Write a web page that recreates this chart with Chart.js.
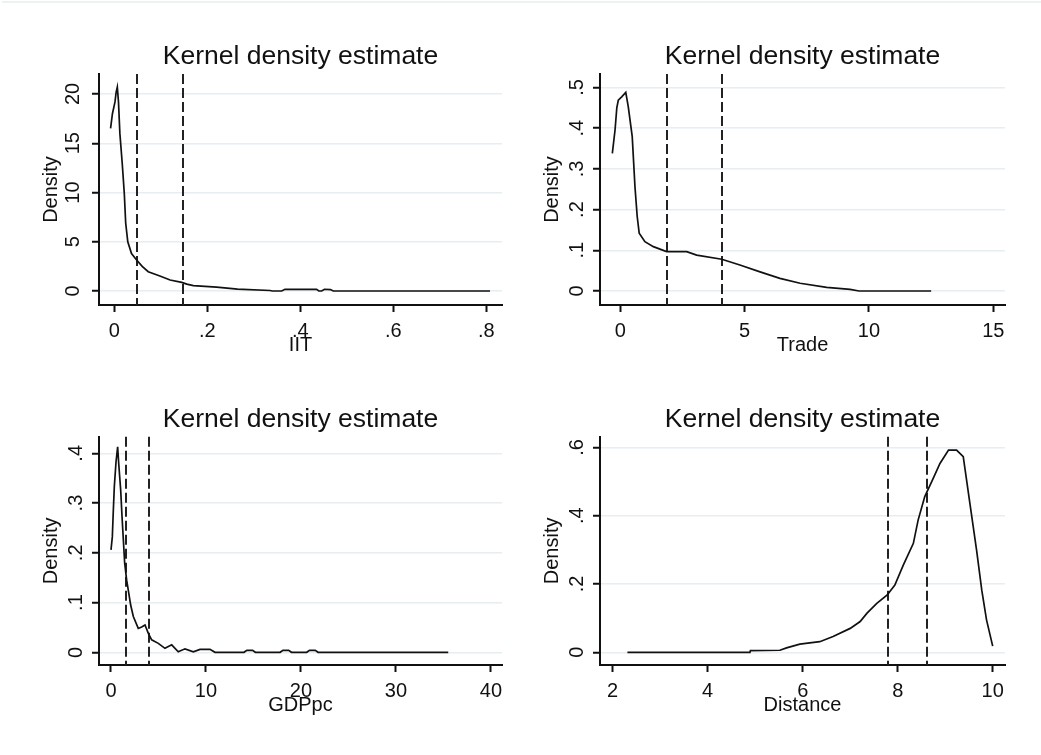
<!DOCTYPE html>
<html><head><meta charset="utf-8">
<script src="https://cdn.jsdelivr.net/npm/chart.js@4.4.1/dist/chart.umd.min.js"></script>
<style>
html,body{margin:0;padding:0;background:#fff;}
body{width:1041px;height:755px;position:relative;overflow:hidden;}
.frame{position:absolute;left:2px;top:1px;right:0;height:0;border-top:2px solid #eef2ef;}
canvas{position:absolute;}
</style></head><body>
<div class="frame"></div>
<canvas id="c1"></canvas><canvas id="c2"></canvas><canvas id="c3"></canvas><canvas id="c4"></canvas>
<script>
const titleText = 'Kernel density estimate';
const yAxisTitle = 'Density';

// IIT
const iitX = [-0.008,-0.004,0.0015,0.004,0.0065,0.009,0.012,0.017,0.0215,0.0245,0.029,0.037,0.048,0.06,0.073,0.098,0.12,0.145,0.156,0.17,0.22,0.265,0.335,0.34,0.36,0.367,0.435,0.44,0.446,0.452,0.465,0.471,0.808];
const iitDensity = [16.5,18.0,19.2,20.2,20.7,19.2,16.0,13.0,9.9,6.9,5.0,3.8,3.15,2.5,1.96,1.52,1.12,0.88,0.7,0.55,0.4,0.2,0.05,0.0,0.0,0.18,0.17,0.0,0.0,0.18,0.15,0.0,0.0];
const iitXTicks = [0,0.2,0.4,0.6,0.8];
const iitXTickLabels = ['0','.2','.4','.6','.8'];
const iitYTicks = [0,5,10,15,20];
const iitYTickLabels = ['0','5','10','15','20'];
const iitMarkers = [0.048,0.147];

// Trade
const tradeX = [-0.32,-0.21,-0.14,-0.08,0.056,0.22,0.32,0.48,0.59,0.68,0.76,0.99,1.33,1.86,2.67,3.07,4.08,4.81,5.62,6.42,7.23,8.3,9.24,9.6,12.5];
const tradeDensity = [0.338,0.396,0.45,0.469,0.477,0.488,0.453,0.379,0.256,0.183,0.142,0.121,0.109,0.0966,0.0966,0.088,0.078,0.064,0.047,0.031,0.019,0.009,0.004,0.0,0.0];
const tradeXTicks = [0,5,10,15];
const tradeXTickLabels = ['0','5','10','15'];
const tradeYTicks = [0,0.1,0.2,0.3,0.4,0.5];
const tradeYTickLabels = ['0','.1','.2','.3','.4','.5'];
const tradeMarkers = [1.88,4.09];

// GDPpc
const gdpX = [0.0,0.14,0.24,0.35,0.53,0.7,0.81,1.02,1.16,1.3,1.44,1.65,1.82,2.07,2.35,2.87,3.23,3.58,3.93,4.28,4.98,5.68,6.39,7.08,7.79,8.67,9.37,10.42,10.95,14.0,14.3,14.9,15.2,17.8,18.1,18.7,19.0,20.6,20.9,21.5,21.8,35.5];
const gdpDensity = [0.206,0.232,0.283,0.333,0.383,0.413,0.38,0.326,0.273,0.226,0.179,0.145,0.125,0.095,0.072,0.048,0.051,0.055,0.038,0.025,0.018,0.008,0.015,0.001,0.007,0.001,0.006,0.006,0.0,0.0,0.004,0.004,0.0,0.0,0.004,0.004,0.0,0.0,0.004,0.004,0.0,0.0];
const gdpXTicks = [0,10,20,30,40];
const gdpXTickLabels = ['0','10','20','30','40'];
const gdpYTicks = [0,0.1,0.2,0.3,0.4];
const gdpYTickLabels = ['0','.1','.2','.3','.4'];
const gdpMarkers = [1.58,3.96];

// Distance
const distX = [2.31,4.89,4.9,5.52,5.66,5.94,6.36,6.64,7.0,7.21,7.35,7.56,7.78,7.94,8.12,8.33,8.43,8.57,8.75,8.89,9.07,9.24,9.38,9.52,9.66,9.77,9.87,10.0];
const distDensity = [0,0,0.005,0.006,0.013,0.024,0.031,0.046,0.07,0.09,0.114,0.143,0.168,0.197,0.256,0.319,0.387,0.456,0.51,0.553,0.592,0.592,0.573,0.436,0.3,0.182,0.095,0.018];
const distXTicks = [2,4,6,8,10];
const distXTickLabels = ['2','4','6','8','10'];
const distYTicks = [0,0.2,0.4,0.6];
const distYTickLabels = ['0','.2','.4','.6'];
const distMarkers = [7.79,8.62];

Chart.defaults.font.family = "'Liberation Sans', Arial, sans-serif";
const ink = '#111';

const markerPlugin = {
  id: 'markers',
  beforeDatasetsDraw(chart, args, opts) {
    const {ctx, chartArea, scales: {x}} = chart;
    ctx.save();
    ctx.strokeStyle = '#222';
    ctx.lineWidth = 2;
    ctx.setLineDash([10, 4]);
    for (const v of opts.values || []) {
      const px = Math.round(x.getPixelForValue(v));
      ctx.beginPath();
      ctx.moveTo(px, chartArea.top);
      ctx.lineTo(px, chartArea.bottom);
      ctx.stroke();
    }
    ctx.restore();
  }
};

const panels = [
  {id:'c1', name:'IIT', xs:iitX, ys:iitDensity, xt:iitXTicks, xl:iitXTickLabels, yt:iitYTicks, yl:iitYTickLabels, mk:iitMarkers,
   box:[0,0,520,377], area:[99,74,502,305], xr:[-0.0329,0.8338], yr:[-1.42,22.03]},
  {id:'c2', name:'Trade', xs:tradeX, ys:tradeDensity, xt:tradeXTicks, xl:tradeXTickLabels, yt:tradeYTicks, yl:tradeYTickLabels, mk:tradeMarkers,
   box:[520,0,521,377], area:[600,74,1005,305], xr:[-0.816,15.47], yr:[-0.0344,0.533]},
  {id:'c3', name:'GDPpc', xs:gdpX, ys:gdpDensity, xt:gdpXTicks, xl:gdpXTickLabels, yt:gdpYTicks, yl:gdpYTickLabels, mk:gdpMarkers,
   box:[0,377,520,378], area:[99,436.7,502,665], xr:[-1.263,41.16], yr:[-0.0255,0.4334]},
  {id:'c4', name:'Distance', xs:distX, ys:distDensity, xt:distXTicks, xl:distXTickLabels, yt:distYTicks, yl:distYTickLabels, mk:distMarkers,
   box:[520,377,521,378], area:[600,436.7,1005,665], xr:[1.733,10.259], yr:[-0.0372,0.6313]}
];

const titleSize = 26.5, titlePadB = 4;
const yScaleW = 63, xScaleH = 50, titleH = titleSize + titlePadB;

for (const p of panels) {
  const cv = document.getElementById(p.id);
  const [bl, bt, bw, bh] = p.box;
  cv.width = bw; cv.height = bh;
  cv.style.left = bl + 'px'; cv.style.top = bt + 'px';
  cv.style.width = bw + 'px'; cv.style.height = bh + 'px';
  const [al, at, ar, ab] = p.area;
  const pad = {
    left: al - bl - yScaleW,
    top: at - bt - titleH,
    right: bl + bw - ar,
    bottom: bt + bh - ab - xScaleH
  };
  new Chart(cv, {
    type: 'line',
    data: {datasets: [{
      data: p.xs.map((v, i) => ({x: v, y: p.ys[i]})),
      borderColor: ink, borderWidth: 1.7, pointRadius: 0, tension: 0, fill: false
    }]},
    options: {
      responsive: false, animation: false, devicePixelRatio: 1,
      layout: {padding: pad},
      plugins: {
        legend: {display: false}, tooltip: {enabled: false},
        title: {display: true, text: titleText, fullSize: false, color: ink,
                font: {size: titleSize, weight: 'normal', lineHeight: 1}, padding: {top: 0, bottom: titlePadB}},
        markers: {values: p.mk}
      },
      scales: {
        x: {
          type: 'linear', min: p.xr[0], max: p.xr[1],
          afterBuildTicks: s => { s.ticks = p.xt.map(v => ({value: v})); },
          afterFit: s => { s.height = xScaleH; },
          ticks: {callback: (v, i) => p.xl[i], font: {size: 20}, color: ink, padding: 7,
                  maxRotation: 0, minRotation: 0, autoSkip: false},
          grid: {drawOnChartArea: false, drawTicks: true, tickLength: 7, tickColor: ink, tickWidth: 2},
          border: {display: true, color: ink, width: 2},
          title: {display: true, text: p.name, color: ink, font: {size: 20, lineHeight: 1}, padding: {top: 0, bottom: 0}}
        },
        y: {
          type: 'linear', min: p.yr[0], max: p.yr[1],
          afterBuildTicks: s => { s.ticks = p.yt.map(v => ({value: v})); },
          afterFit: s => { s.width = yScaleW; },
          ticks: {callback: (v, i) => p.yl[i], font: {size: 20}, color: ink, padding: 7,
                  minRotation: 90, maxRotation: 90, crossAlign: 'center', autoSkip: false},
          grid: {color: '#e6eef1', lineWidth: 1.5, drawTicks: true, tickLength: 7, tickColor: ink, tickWidth: 2},
          border: {display: true, color: ink, width: 2},
          title: {display: true, text: yAxisTitle, color: ink, font: {size: 20, lineHeight: 1}, padding: {top: 5, bottom: 0}}
        }
      }
    },
    plugins: [markerPlugin]
  });
}
</script>
</body></html>
